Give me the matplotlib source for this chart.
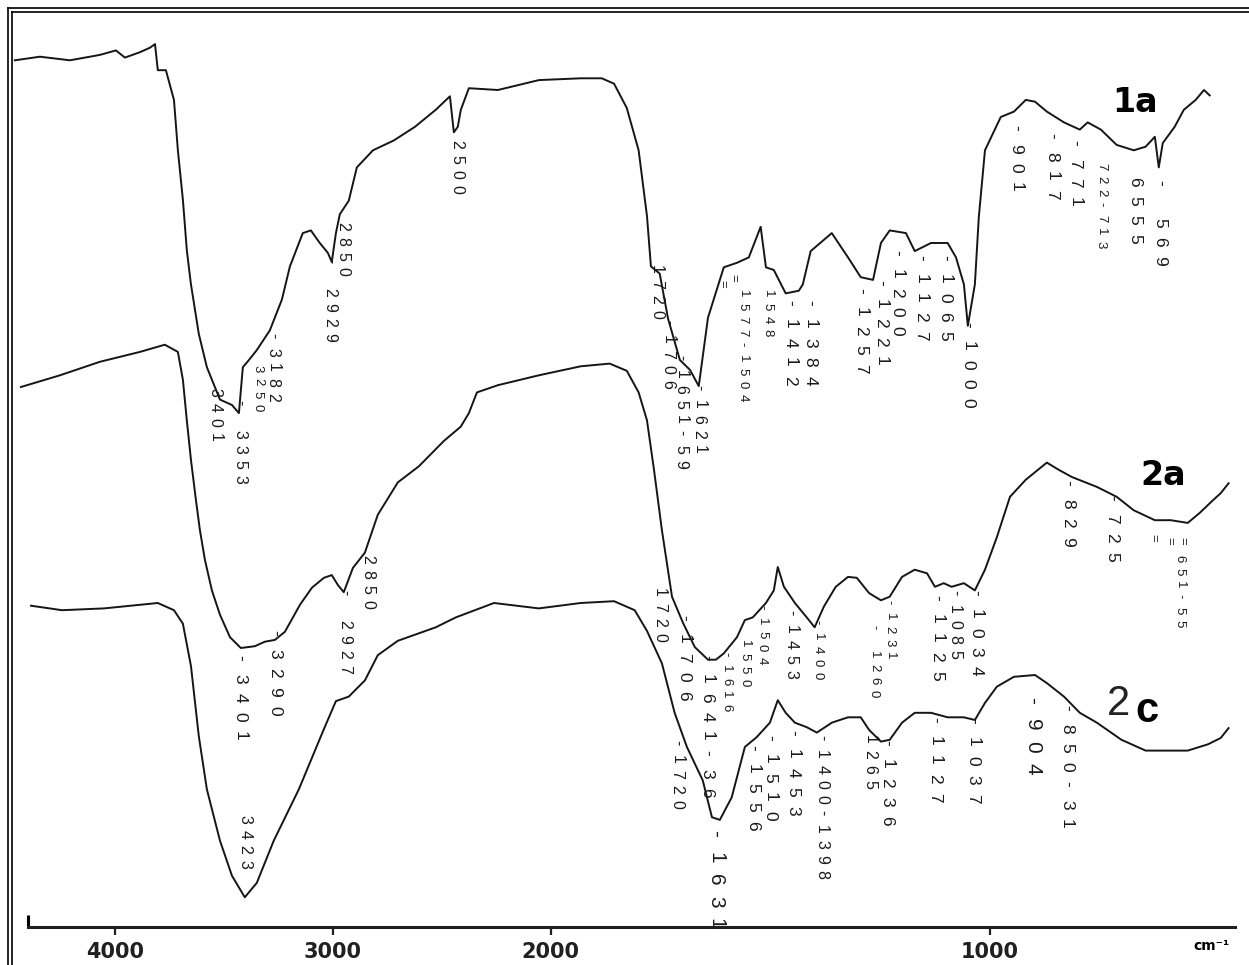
import matplotlib
matplotlib.use("Agg")
import matplotlib.pyplot as plt
from matplotlib.lines import Line2D
import numpy as np

DPI = 100
BREAK = 2000
HIGH_RATIO = 218 / 439  # the chart paper uses a 2x scale below 2000 cm-1

# spectrum traces: wavenumber (cm-1) and transmittance (arbitrary %, offset per trace)
WN_1A = [4459, 4344, 4206, 4069, 3995, 3954, 3885, 3839, 3816, 3803, 3766, 3729, 3711, 3688, 3670,
         3651, 3615, 3578, 3518, 3463, 3431, 3413, 3385, 3349, 3289, 3234, 3197, 3138, 3101, 3060,
         3023, 3005, 2986, 2968, 2927, 2890, 2816, 2720, 2624, 2528, 2463, 2445, 2427, 2413, 2376,
         2243, 2055, 1932, 1884, 1856, 1827, 1800, 1781, 1772, 1752, 1733, 1706, 1683, 1663, 1642,
         1606, 1576, 1549, 1522, 1510, 1492, 1465, 1435, 1426, 1408, 1360, 1323, 1294, 1266, 1248,
         1228, 1191, 1171, 1134, 1096, 1077, 1059, 1050, 1034, 1025, 1011, 975, 945, 918, 897,
         870, 831, 795, 777, 747, 711, 672, 645, 624, 615, 606, 579, 558, 531, 512, 499]
T_1A = [96.3, 96.7, 96.3, 96.9, 97.4, 96.6, 97.2, 97.7, 98.1, 95.2, 95.2, 91.9, 86.3, 80.8, 75.2,
        71.4, 65.9, 62.2, 58.6, 58.0, 57.1, 62.2, 63.0, 64.1, 66.3, 69.7, 73.4, 77.1, 77.4, 76.0,
        74.9, 73.9, 77.1, 79.2, 80.7, 84.4, 86.3, 87.4, 88.9, 90.8, 92.3, 88.3, 88.9, 90.8, 93.2,
        93.0, 94.1, 94.3, 94.3, 93.7, 91.0, 86.3, 79.0, 73.4, 72.6, 67.6, 63.0, 61.9, 60.1, 67.7,
        73.3, 73.8, 74.4, 77.8, 73.3, 73.0, 70.4, 70.7, 71.4, 75.1, 77.1, 74.4, 72.2, 71.9, 76.0,
        77.4, 77.1, 75.1, 76.0, 76.0, 74.4, 71.4, 66.8, 71.4, 78.9, 86.3, 90.0, 90.6, 91.9, 91.7,
        90.6, 89.4, 88.6, 89.4, 88.6, 86.9, 86.3, 86.7, 87.8, 84.4, 87.1, 88.9, 90.8, 91.9, 93.0, 92.4]

WN_2A = [4431, 4252, 4069, 3885, 3771, 3711, 3688, 3670, 3651, 3628, 3610, 3587, 3555, 3518, 3472,
         3422, 3358, 3312, 3266, 3220, 3151, 3096, 3041, 3005, 2977, 2950, 2908, 2853, 2794, 2702,
         2605, 2491, 2413, 2376, 2339, 2243, 2055, 1932, 1866, 1827, 1800, 1781, 1765, 1747, 1724,
         1699, 1672, 1642, 1624, 1606, 1576, 1558, 1540, 1510, 1492, 1483, 1469, 1444, 1417, 1399,
         1378, 1351, 1323, 1303, 1275, 1248, 1228, 1200, 1171, 1143, 1125, 1105, 1087, 1059, 1034,
         1011, 984, 954, 918, 870, 843, 813, 756, 711, 672, 624, 588, 549, 522, 492, 474, 456]
T_2A = [60.0, 61.3, 62.8, 63.9, 64.7, 63.9, 60.8, 56.3, 51.9, 47.4, 44.1, 40.8, 37.4, 34.7, 32.2,
        31.0, 31.2, 31.7, 31.9, 32.8, 35.8, 37.7, 38.8, 39.1, 38.0, 37.2, 39.9, 41.6, 45.8, 49.4,
        51.2, 54.0, 55.6, 57.1, 59.4, 60.2, 61.3, 62.3, 62.6, 61.8, 59.4, 56.3, 50.8, 44.1, 36.7,
        33.8, 31.1, 29.7, 29.7, 30.4, 32.2, 34.1, 34.4, 36.0, 37.4, 40.0, 37.8, 36.0, 34.4, 33.3,
        35.6, 37.8, 38.9, 38.8, 37.1, 36.3, 36.7, 38.9, 39.7, 39.3, 37.8, 38.2, 37.8, 38.2, 37.4,
        39.7, 43.3, 47.8, 49.7, 51.6, 50.8, 50.0, 48.9, 47.8, 46.3, 45.2, 45.2, 44.9, 46.0, 47.4, 48.2, 49.3]

WN_2C = [4385, 4243, 4050, 3803, 3729, 3688, 3651, 3615, 3578, 3518, 3463, 3404, 3349, 3271, 3156,
         3041, 2986, 2927, 2853, 2794, 2702, 2528, 2436, 2261, 2055, 1932, 1856, 1809, 1781, 1747,
         1718, 1690, 1654, 1633, 1615, 1588, 1558, 1531, 1501, 1483, 1465, 1444, 1417, 1394, 1360,
         1323, 1294, 1275, 1248, 1228, 1200, 1171, 1134, 1096, 1059, 1034, 1011, 984, 945, 897,
         870, 831, 795, 756, 700, 645, 588, 549, 503, 474, 456]
T_2C = [35.7, 35.2, 35.4, 36.0, 35.2, 33.7, 29.0, 21.2, 15.3, 9.6, 5.7, 3.3, 4.9, 9.6, 15.3,
        22.0, 25.1, 25.6, 27.4, 30.2, 31.8, 33.3, 34.4, 36.0, 35.4, 36.0, 36.2, 35.2, 32.9, 29.3,
        23.8, 20.0, 16.3, 12.2, 11.9, 14.4, 20.0, 21.1, 22.7, 25.2, 23.8, 22.7, 22.2, 21.6, 22.7,
        23.3, 23.3, 21.9, 20.6, 20.8, 22.7, 23.8, 23.8, 23.3, 23.3, 23.0, 24.9, 26.7, 27.8, 28.0,
        27.1, 25.6, 23.8, 22.7, 20.8, 19.6, 19.6, 19.6, 20.3, 21.0, 22.1]

# peak annotations (text, wavenumber, top of label in T units)
LABELS_SMALL = [
    ("3250", 3344, 62.4), ("1577-1504", 1563, 70.8), ("1548", 1506, 70.8), ("722-713", 747, 84.9),
    ("-1616", 1601, 30.6), ("1550", 1558, 31.9), ("-1504", 1519, 35.8), ("-1400", 1392, 34.1),
    ("- 1260", 1264, 33.6), ("-1231", 1228, 36.3), ("651-55", 567, 41.3),
    ("=", 1610, 71.9), ("=", 1585, 72.5), ("=", 628, 43.7), ("=", 590, 43.3), ("=", 562, 43.3),
]
LABELS_NORMAL = [
    ("2500", 2431, 87.4), ("2850", 2954, 78.3), ("- 2929", 3014, 74.3), ("-3182", 3275, 66.0),
    ("- 3353", 3427, 58.6), ("3401", 3541, 59.9), ("1720", 1759, 73.6), ("-1706", 1733, 67.4),
    ("-1651-59", 1704, 63.6), ("-1621", 1663, 60.2),
    ("2850", 2839, 41.3), ("- 2927", 2945, 37.4), ("1720", 1752, 37.7), ("-1453", 1453, 35.2),
    ("-1085", 1080, 37.4),
    ("3423", 3404, 12.4), ("-1720", 1713, 20.8), ("-1400-1398", 1383, 21.3), ("1265", 1273, 21.3),
]
LABELS_WIDE = [
    ("-1412", 1456, 69.7), ("-1384", 1410, 69.7), ("-1257", 1294, 71.0), ("-1221", 1248, 71.9),
    ("-1200", 1212, 75.2), ("-1127", 1157, 74.7), ("-1065", 1102, 74.7), ("-1000", 1050, 67.2),
    ("-901", 941, 89.1), ("-817", 859, 88.2), ("-771", 806, 87.4), ("6555", 670, 83.3),
    ("- 569", 613, 83.0),
    ("-3290", 3266, 33.0), ("-3401", 3427, 30.2), ("-1706", 1697, 34.7), ("-1641-36", 1645, 30.2),
    ("-1125", 1121, 36.9), ("-1034", 1032, 37.4), ("-829", 822, 49.7), ("-725", 722, 48.0),
    ("-1556", 1540, 20.2), ("-1510", 1501, 21.3), ("-1453", 1449, 21.9), ("-1236", 1235, 20.8),
    ("-1127", 1125, 23.3), ("-1037", 1039, 23.2), ("-850-31", 825, 24.7),
]
LABELS_BIG = [("-1631", 1624, 10.8), ("-904", 902, 25.6)]

TICKS = [4000, 3000, 2000, 1000]


def forward(x):
    x = np.asarray(x, dtype=float)
    return np.where(x > BREAK, (x - BREAK) * HIGH_RATIO, x - BREAK)


def inverse(u):
    u = np.asarray(u, dtype=float)
    return np.where(u > 0, BREAK + u / HIGH_RATIO, BREAK + u)


def vlabel(ax, text, wn, top, size, step_px):
    # the scan has letter-spaced labels, so each character is placed on its own
    step = step_px * 72 / DPI
    for i, ch in enumerate(text):
        if ch == " ":
            continue
        ax.annotate(ch, (wn, top), xytext=(0, -i * step), textcoords="offset points",
                    rotation=270, ha="center", va="top", fontsize=size,
                    family="Liberation Sans", color="#1a1a1a", annotation_clip=False)


fig = plt.figure(figsize=(12.49, 9.65), dpi=DPI)
ax = fig.add_axes([12 / 1249, 38 / 965, 1228 / 1249, 900 / 965])
ax.set_xscale("function", functions=(forward, inverse))
ax.set_xlim(4472, 430)
ax.set_ylim(0, 100)
ax.patch.set_visible(False)

for wn, t in ((WN_1A, T_1A), (WN_2A, T_2A), (WN_2C, T_2C)):
    ax.plot(wn, t, color="#151515", lw=1.4, solid_joinstyle="round")

for group, size, step in ((LABELS_SMALL, 9.5, 13), (LABELS_NORMAL, 11.5, 15),
                          (LABELS_WIDE, 12.5, 19), (LABELS_BIG, 15, 22)):
    for text, wn, top in group:
        vlabel(ax, text, wn, top, size, step)

ax.text(670, 91.6, "1a", fontsize=24, fontweight="bold", ha="center", va="center")
ax.text(606, 50.2, "2a", fontsize=24, fontweight="bold", ha="center", va="center")
ax.text(706, 24.8, "2", fontsize=30, family="Liberation Sans", color="#222222",
        ha="center", va="center")
ax.text(642, 24.0, "c", fontsize=30, fontweight="bold", family="Liberation Sans",
        ha="center", va="center")

for side in ("top", "left", "right"):
    ax.spines[side].set_visible(False)
ax.spines["bottom"].set_linewidth(2.2)
ax.spines["bottom"].set_color("#202020")
ax.spines["bottom"].set_bounds(4400, 442)
ax.set_yticks([])
ax.set_xticks(TICKS)
ax.set_xticklabels([str(t) for t in TICKS])
ax.set_xticks([4400], minor=True)
ax.tick_params(axis="x", which="major", direction="out", length=6, width=1.6, pad=5,
               labelsize=15, colors="#202020")
ax.tick_params(axis="x", which="minor", direction="in", length=9, width=2.2)
for lbl in ax.get_xticklabels():
    lbl.set_fontweight("bold")

fig.text(1211 / 1249, 1 - 946 / 965, "cm⁻¹", fontsize=10, fontweight="bold",
         ha="center", va="center")

# double frame of the scanned page (left and top edges)
for px in (8, 12):
    fig.add_artist(Line2D([px / 1249, px / 1249], [0, 1 - px / 965],
                          transform=fig.transFigure, color="black", lw=1.2))
    fig.add_artist(Line2D([px / 1249, 1], [1 - px / 965, 1 - px / 965],
                          transform=fig.transFigure, color="black", lw=1.2))

fig.savefig("out.png", dpi=DPI)
